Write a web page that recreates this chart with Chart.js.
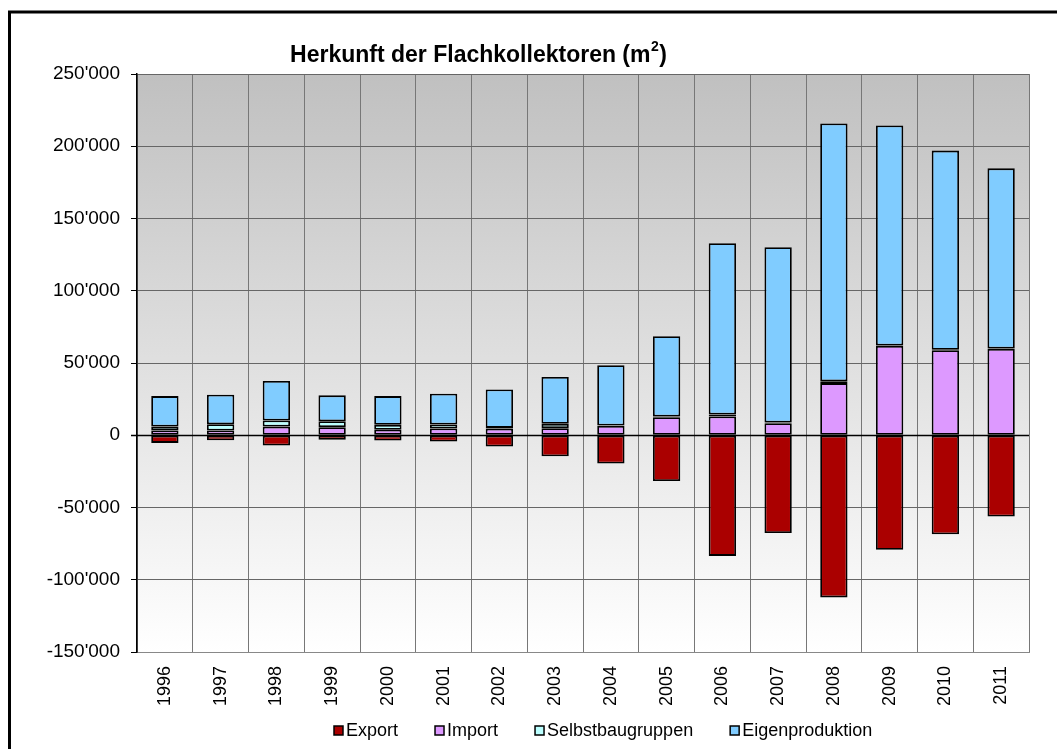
<!DOCTYPE html>
<html>
<head>
<meta charset="utf-8">
<script src="https://cdn.jsdelivr.net/npm/chart.js@4/dist/chart.umd.min.js"></script>
<style>
  html,body{margin:0;padding:0;background:#fff;}
  #wrap{width:1057px;height:749px;position:relative;}
</style>
</head>
<body>
<div id="wrap"><canvas id="c" width="1057" height="749"></canvas></div>
<script>
const years = ['1996','1997','1998','1999','2000','2001','2002','2003','2004','2005','2006','2007','2008','2009','2010','2011'];
const exportVals = [-5300,-3500,-7100,-3200,-3700,-4400,-7800,-14600,-19600,-31700,-83500,-67600,-112200,-79200,-68500,-56200];
const importVals = [3300,3300,6000,5600,3800,4700,4600,4900,6500,12500,13000,8300,36100,61800,58800,59700];
const selbstVals = [2700,4300,4200,4100,3400,2700,500,3000,200,500,1400,500,1200,300,300,300];
const eigenVals  = [21100,20500,27300,17900,19900,21400,26600,32400,41700,55500,118500,121300,178500,152300,137900,124700];
const seriesNames = ['Export','Import','Selbstbaugruppen','Eigenproduktion'];
const titleMain = 'Herkunft der Flachkollektoren (m';
const titleSup = '2';
const titleEnd = ')';
const yMin = -150000, yMax = 250000, yStep = 50000;

const FONT = "'Liberation Sans', Arial, sans-serif";
const colors = ['#aa0000','#dd99ff','#bbffff','#80ccff'];

function fmt(v){
  const s = Math.abs(v).toString().replace(/\B(?=(\d{3})+(?!\d))/g, "'");
  return (v < 0 ? '-' : '') + s;
}

const bgPlugin = {
  id:'bg',
  beforeDraw(chart){
    const {ctx, chartArea:a} = chart;
    ctx.save();
    ctx.fillStyle = '#fff';
    ctx.fillRect(0,0,chart.width,chart.height);
    ctx.strokeStyle = '#000';
    ctx.lineWidth = 3;
    ctx.strokeRect(9.5, 12, 3000, 3000);
    const g = ctx.createLinearGradient(0, a.top, 0, a.bottom);
    g.addColorStop(0, '#c0c0c0');
    g.addColorStop(1, '#ffffff');
    ctx.fillStyle = g;
    ctx.fillRect(a.left, a.top, a.right - a.left, a.bottom - a.top);
    ctx.restore();
  },
  afterDraw(chart){
    const {ctx} = chart;
    ctx.save();
    // title with superscript
    ctx.fillStyle = '#000';
    ctx.textBaseline = 'alphabetic';
    ctx.textAlign = 'left';
    const fMain = 'bold 23px ' + FONT, fSup = 'bold 14px ' + FONT;
    ctx.font = fMain;
    const w1 = ctx.measureText(titleMain).width;
    const w3 = ctx.measureText(titleEnd).width;
    ctx.font = fSup;
    const w2 = ctx.measureText(titleSup).width;
    let tx = 478 - (w1 + w2 + w3) / 2;
    ctx.font = fMain;
    ctx.fillText(titleMain, tx, 62);
    ctx.font = fSup;
    ctx.fillText(titleSup, tx + w1 + 0.5, 51);
    ctx.font = fMain;
    ctx.fillText(titleEnd, tx + w1 + w2 + 1, 62);
    // legend
    ctx.font = '18px ' + FONT;
    ctx.textAlign = 'left';
    ctx.textBaseline = 'middle';
    let x = 334;
    const yc = 730.5;
    chart.data.datasets.forEach((ds) => {
      ctx.fillStyle = ds.backgroundColor;
      ctx.fillRect(x, yc - 4.5, 9, 9);
      ctx.strokeStyle = '#000';
      ctx.lineWidth = 1.5;
      ctx.strokeRect(x, yc - 4.5, 9, 9);
      ctx.fillStyle = '#000';
      ctx.fillText(ds.label, x + 12, yc + 1);
      x += 12 + ctx.measureText(ds.label).width + 37;
    });
    // zero line
    const ys = chart.scales.y, a = chart.chartArea;
    const y0 = Math.round(ys.getPixelForValue(0)) + 0.5;
    ctx.strokeStyle = '#000';
    ctx.lineWidth = 1.5;
    ctx.beginPath();
    ctx.moveTo(a.left - 6, y0);
    ctx.lineTo(a.right, y0);
    ctx.stroke();
    ctx.restore();
  }
};

const vals = [exportVals, importVals, selbstVals, eigenVals];
new Chart(document.getElementById('c'), {
  type:'bar',
  data:{
    labels: years,
    datasets: seriesNames.map((n,i)=>({
      label:n,
      data: vals[i],
      backgroundColor: colors[i],
      borderColor:'#000',
      borderWidth:1.8,
      borderSkipped:false,
      barPercentage:0.49,
      categoryPercentage:1.0
    }))
  },
  options:{
    responsive:false,
    animation:false,
    layout:{padding:{left:0,top:74,right:28,bottom:0}},
    plugins:{legend:{display:false}, title:{display:false}, tooltip:{enabled:false}},
    scales:{
      x:{
        stacked:true,
        grid:{color:'#777', lineWidth:1, drawTicks:false, offset:true},
        border:{color:'#888', width:1},
        ticks:{color:'#000', font:{family:FONT, size:18}, minRotation:90, maxRotation:90, padding:14, autoSkip:false},
        afterFit(s){ s.height = 97; }
      },
      y:{
        stacked:true,
        min:yMin, max:yMax,
        grid:{color:'#666', lineWidth:1, tickLength:6, tickColor:'#000'},
        border:{color:'#000', width:1.5},
        ticks:{stepSize:yStep, color:'#000', font:{family:FONT, size:19}, padding:11, callback:(v)=>fmt(v)},
        afterFit(s){ s.width = 137; }
      }
    }
  },
  plugins:[bgPlugin]
});
</script>
</body>
</html>
